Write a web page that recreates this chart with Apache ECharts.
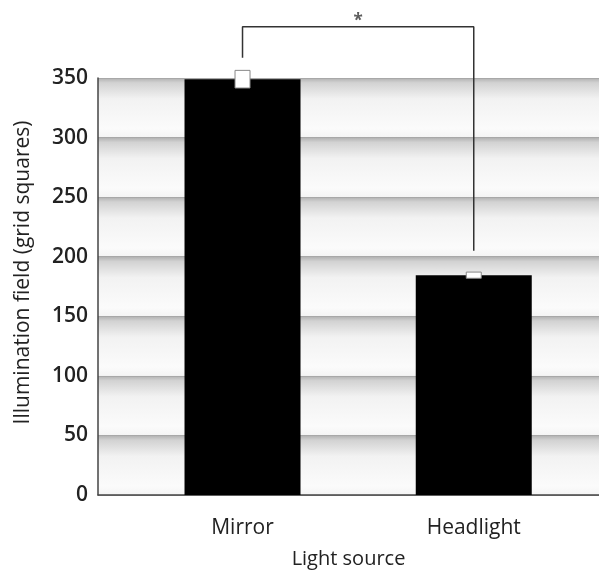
<!DOCTYPE html>
<html>
<head>
<meta charset="utf-8">
<script src="https://cdn.jsdelivr.net/npm/echarts@6/dist/echarts.min.js"></script>
<style>html,body{margin:0;padding:0;background:#fff}#c{width:599px;height:570px}</style>
</head>
<body>
<div id="c"></div>
<script>
// ---- data ----
var categories = ['Mirror', 'Headlight'];
var means = [349, 184.5];
var errors = [7.4, 2.6];
var yTickValues = [0, 50, 100, 150, 200, 250, 300, 350];
var xTitle = 'Light source';
var yTitle = 'Illumination field (grid squares)';
var sigLabel = '*';
var bracketTop = 393;
var bracketLegBottoms = [367, 205];

// ---- layout: category slots on the axis ----
var slotCount = 26;
var slotIndex = [7, 19];
var axisSlots = [];
for (var i = 0; i < slotCount; i++) axisSlots.push('');
categories.forEach(function (c, k) { axisSlots[slotIndex[k]] = c; });
var barData = axisSlots.map(function () { return '-'; });
means.forEach(function (v, k) { barData[slotIndex[k]] = v; });
var errData = means.map(function (v, k) { return [slotIndex[k], v, errors[k]]; });
var bracketData = [
  [slotIndex[0], bracketLegBottoms[0]],
  [slotIndex[0], bracketTop],
  [slotIndex[1], bracketTop],
  [slotIndex[1], bracketLegBottoms[1]]
];
var midSlot = (slotIndex[0] + slotIndex[1]) / 2;

var font = 'Open Sans';
var chart = echarts.init(document.getElementById('c'));
chart.setOption({
  animation: false,
  backgroundColor: '#ffffff',
  grid: { left: 98, top: 78, bottom: 75, right: 0, containLabel: false, outerBoundsMode: 'none' },
  xAxis: {
    type: 'category',
    data: axisSlots,
    boundaryGap: true,
    name: xTitle,
    nameLocation: 'middle',
    nameGap: 54,
    nameTextStyle: { fontFamily: font, fontSize: 20, color: '#222' },
    axisLine: { lineStyle: { color: '#444', width: 1.5 } },
    axisTick: { show: false },
    axisLabel: { interval: 0, margin: 23, fontFamily: font, fontSize: 21, color: '#222' },
    splitLine: { show: false }
  },
  yAxis: {
    type: 'value',
    min: yTickValues[0],
    max: yTickValues[yTickValues.length - 1],
    interval: 50,
    name: yTitle,
    nameLocation: 'middle',
    nameGap: 64,
    nameTextStyle: { fontFamily: font, fontSize: 21, color: '#222', padding: [0, 0, 0, 28] },
    axisLine: { show: true, lineStyle: { color: '#444', width: 1.5 } },
    axisTick: { show: false },
    axisLabel: { margin: 10, fontFamily: font, fontSize: 21, fontWeight: 600, color: '#222' },
    splitLine: { show: true, lineStyle: { color: '#a8a8a8', width: 1 } },
    splitArea: {
      show: true,
      areaStyle: {
        color: [{
          type: 'linear', x: 0, y: 0, x2: 0, y2: 1,
          colorStops: [
            { offset: 0, color: '#b0b0b0' },
            { offset: 0.08, color: '#d2d2d2' },
            { offset: 0.35, color: '#f2f2f2' },
            { offset: 0.85, color: '#fbfbfb' },
            { offset: 1, color: '#f4f4f4' }
          ]
        }]
      }
    }
  },
  series: [
    {
      type: 'bar',
      data: barData,
      barWidth: 116,
      itemStyle: { color: '#000' },
      z: 2
    },
    {
      type: 'custom',
      data: errData,
      z: 4,
      clip: false,
      renderItem: function (params, api) {
        var x = api.value(0), v = api.value(1), e = api.value(2);
        var top = api.coord([x, v + e]);
        var bot = api.coord([x, v - e]);
        var w = 15;
        return {
          type: 'rect',
          shape: { x: top[0] - w / 2, y: top[1], width: w, height: bot[1] - top[1] },
          style: { fill: '#fff', stroke: '#888', lineWidth: 1 }
        };
      }
    },
    {
      type: 'line',
      data: bracketData,
      clip: false,
      symbol: 'none',
      lineStyle: { color: '#333', width: 1.5 },
      z: 3
    },
    {
      type: 'scatter',
      data: [[midSlot, bracketTop]],
      clip: false,
      symbolSize: 0,
      label: {
        show: true, position: 'top', distance: -3, formatter: sigLabel,
        fontFamily: font, fontSize: 17, fontWeight: 'bold', color: '#333'
      }
    }
  ]
});
</script>
</body>
</html>
